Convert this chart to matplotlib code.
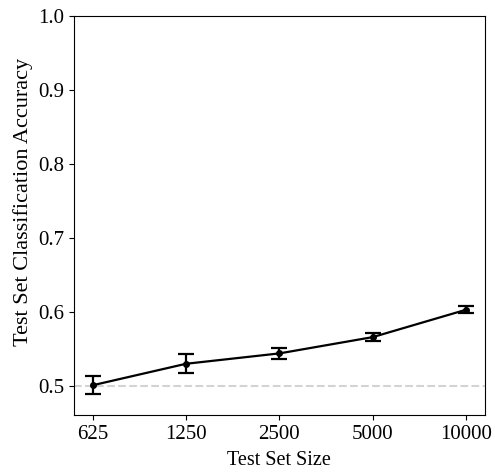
import matplotlib

matplotlib.use("Agg")
import matplotlib.pyplot as plt
from matplotlib.ticker import FixedLocator, FixedFormatter, NullLocator

plt.rcParams["font.family"] = ["Liberation Serif", "DejaVu Serif"]

test_sizes = [625, 1250, 2500, 5000, 10000]
accuracy = [0.501, 0.530, 0.544, 0.566, 0.603]
accuracy_err = [0.012, 0.013, 0.007, 0.005, 0.0045]
tick_labels = ["625", "1250", "2500", "5000", "10000"]
chance_level = 0.5

fig = plt.figure(figsize=(4.95, 4.72), dpi=100)
ax = fig.add_axes([0.1495, 0.121, 0.830, 0.846])

ax.axhline(chance_level, color="lightgray", linestyle="--", linewidth=1.5, zorder=1)
ax.errorbar(
    test_sizes,
    accuracy,
    yerr=accuracy_err,
    color="black",
    marker="o",
    markersize=4,
    linewidth=1.6,
    elinewidth=1.6,
    capsize=6,
    capthick=1.6,
    zorder=3,
)

ax.set_xscale("log")
ax.xaxis.set_major_locator(FixedLocator(test_sizes))
ax.xaxis.set_major_formatter(FixedFormatter(tick_labels))
ax.xaxis.set_minor_locator(NullLocator())
ax.set_ylim(0.461, 1.0)
ax.set_yticks([0.5, 0.6, 0.7, 0.8, 0.9, 1.0])
ax.tick_params(labelsize=15)

ax.set_xlabel("Test Set Size", fontsize=14.5, labelpad=5)
ax.set_ylabel("Test Set Classification Accuracy", fontsize=16, labelpad=4, y=0.534)

fig.savefig("out.png", dpi=100)
